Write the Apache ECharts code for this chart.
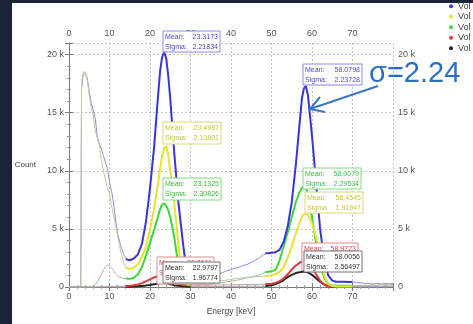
<!DOCTYPE html>
<html><head><meta charset="utf-8">
<script src="https://cdn.jsdelivr.net/npm/echarts@6/dist/echarts.min.js"></script>
<style>html,body{margin:0;padding:0;background:#fff}#c{width:473px;height:324px}</style>
</head><body><div id="c"></div>
<script>
// ---------- data ----------
const seriesNames = ['Vol A', 'Vol 1', 'Vol 2', 'Vol 3', 'Vol 4'];
const xTickLabels = [0, 10, 20, 30, 40, 50, 60, 70];
const yTickValues = [0, 5000, 10000, 15000, 20000];

// fitted peak curves (thick lines), energy in keV
const fitLeftX = [14,15,16,17,18,19,20,21,22,22.5,23,23.5,24,24.5,25,26,27,28,29,30];
const fitLeftA = [2400,2300,2450,2800,3700,5600,8500,12000,16500,18600,19800,20200,19700,18200,16200,11500,7300,4200,1300,500];
const fitLeft1 = [1650,1550,1650,1950,2600,3500,4900,6700,8900,10200,11300,12000,12100,11400,10000,7200,3800,700,300,200];
const fitLeft2 = [750,700,800,1100,1700,2700,3800,4900,6100,6700,7100,7200,7000,6600,6000,4300,1800,500,200,150];
const fitLeft3 = [80,100,150,220,330,480,650,820,950,1000,1030,1030,980,900,780,500,280,180,150,150];
const fitLeft4 = [20,30,40,60,90,120,170,230,290,320,340,340,320,290,240,160,100,60,40,30];

const fitRightX = [48.5,49,50,51,52,53,54,55,56,57,57.5,58,58.5,59,60,61,62,63,64,65,66,67,68,69,70];
const fitRightA = [2900,2900,2950,3000,3200,3900,5200,7300,10500,14300,16200,17100,17300,16500,13000,9000,5000,2400,1000,550,450,450,450,430,430];
const fitRight1 = [950,950,1000,1100,1300,1700,2500,3500,4600,5600,6000,6250,6300,6200,5500,4300,2600,1000,250,80,50,50,50,50,50];
const fitRight2 = [1300,1300,1350,1500,2300,3500,4700,6000,7300,8200,8500,8600,8500,8100,6000,3800,2000,800,250,120,100,100,100,100,100];
const fitRight3 = [250,250,280,350,500,750,1100,1500,1850,2100,2200,2250,2200,2100,1700,1100,550,200,80,40,30,30,30,30,30];
const fitRight4 = [80,100,150,250,400,600,850,1050,1200,1280,1310,1320,1300,1250,1050,750,450,200,60,30,20,20,20,20,20];

// raw spectra (thin lines) outside the fit windows; null = gap
const histX = [0,1,2,2.9,3.1,3.5,4,4.5,5,5.5,6,6.5,7,7.5,8,8.5,9,9.5,10,10.5,11,11.5,12,12.5,13,13.5,14,14.5,
  15,
  30,31,32,33,34,35,36,37,38,39,40,41,42,43,44,45,46,47,48,49,
  49.5,
  70,71,72,73,74,75,76,77,78,79,80];
const histA = [0,0,0,0,17000,18300,18400,18000,16800,15800,15200,14500,12900,12300,11900,11300,10700,10200,9000,8300,7200,5800,4600,3900,3300,2800,2500,2350,
  null,
  450,550,650,750,800,900,1000,1100,1250,1400,1500,1600,1700,1850,1950,2100,2300,2500,2800,2900,
  null,
  430,400,350,320,300,260,320,250,300,260,300];
const hist1 = [0,0,0,0,17500,18500,18500,17800,16500,15300,14800,13400,12800,12200,11000,10000,9200,8500,8000,7000,6200,5300,4400,3500,2700,2100,1750,1600,
  null,
  250,300,320,350,380,420,460,500,550,600,650,700,750,780,820,850,880,900,930,950,
  null,
  60,100,80,150,120,200,150,250,180,220,200];
const hist2 = [0,0,0,0,0,0,0,0,0,0,50,200,450,750,1100,1450,1750,1900,1850,1650,1400,1150,950,850,780,730,720,700,
  null,
  180,190,200,220,250,280,320,360,400,450,500,560,620,700,780,870,960,1050,1200,1300,
  null,
  100,120,90,150,110,160,130,200,150,180,170];
const hist3 = [0,0,0,0,0,0,0,0,0,0,0,0,10,20,30,40,50,60,60,70,70,70,70,70,75,75,80,80,
  null,
  150,150,150,160,160,170,170,180,180,190,190,200,200,210,210,220,220,230,240,250,
  null,
  30,40,30,50,40,60,50,70,60,70,60];
const hist4 = [0,0,0,0,0,0,0,0,0,0,0,0,0,5,5,10,10,10,15,15,15,15,20,20,20,20,20,20,
  null,
  30,30,35,35,40,40,45,45,50,50,55,55,60,60,65,65,70,70,75,80,
  null,
  20,30,20,30,25,35,25,40,30,35,30];

// fit statistics shown in the annotation boxes
const statMean  = ['23.3173','58.0798','23.4987','23.1325','58.4545','58.0079','22.8611','22.9797','58.9723','58.0056'];
const statSigma = ['2.21834','2.23728','2.10801','2.30826','1.91947','2.29534','2.70415','1.96774','2.53128','2.56497'];
const annotationText = 'σ=2.24';

// ---------- styling / layout ----------
const lineColors = ['#3b35d9', '#e4e431', '#3cd63c', '#e03a3a', '#222222'];
const histColors = ['#948cd0', '#c9c49e', '#a3bfa3', '#c9a5a5', '#a8a8a8'];
const boxText = ['#4a4ad6', '#c9c43a', '#3dbd3d', '#d04848', '#333333'];
const boxBorder = ['#8a8ae6', '#dcd87a', '#86d886', '#e08a8a', '#777777'];
// [x, y, w, h, seriesIndex]
const boxLayout = [
  [163, 31, 57, 21, 0],
  [303, 64, 59, 21, 0],
  [163, 122, 58, 22, 1],
  [163, 178, 58, 22, 2],
  [305, 192, 58, 21, 1],
  [303, 168, 58, 21, 2],
  [157, 257, 57, 27, 3],
  [163, 262, 57, 21, 4],
  [302, 243, 56, 27, 3],
  [304, 251, 58, 21, 4]
];

function pairs(xs, ys) { return xs.map((x, i) => [x, ys[i] == null ? '-' : ys[i]]); }

const fitsL = [fitLeftA, fitLeft1, fitLeft2, fitLeft3, fitLeft4];
const fitsR = [fitRightA, fitRight1, fitRight2, fitRight3, fitRight4];
const hists = [histA, hist1, hist2, hist3, hist4];

const series = [];
hists.forEach((h, i) => {
  series.push({
    name: seriesNames[i] + ' spectrum', type: 'line', data: pairs(histX, h),
    symbol: 'none', z: 2, lineStyle: { width: 1, color: histColors[i] }, itemStyle: { color: histColors[i] }
  });
});
[4, 3, 2, 1, 0].forEach(i => {
  series.push({
    name: seriesNames[i], type: 'line', data: pairs(fitLeftX, fitsL[i]),
    symbol: 'none', z: 3, lineStyle: { width: 2, color: lineColors[i] }, itemStyle: { color: lineColors[i] }
  });
  series.push({
    name: seriesNames[i], type: 'line', data: pairs(fitRightX, fitsR[i]),
    symbol: 'none', z: 3, lineStyle: { width: 2, color: lineColors[i] }, itemStyle: { color: lineColors[i] }
  });
});

const graphics = [
  { type: 'rect', shape: { x: 0, y: 0, width: 12, height: 324 }, style: { fill: '#1b2436' }, z: 100 },
  { type: 'rect', shape: { x: 0, y: 0, width: 473, height: 3 }, style: { fill: '#1b2436' }, z: 100 }
];
boxLayout.forEach((b, k) => {
  const [x, y, w, h, si] = b;
  const font = '8px "Liberation Sans", Arial, sans-serif';
  const sx = 0.88;
  graphics.push({
    type: 'group', z: 50 + k,
    children: [
      { type: 'rect', shape: { x: x, y: y, width: w, height: h }, style: { fill: '#ffffff', stroke: boxBorder[si], lineWidth: 1 }, z: 50 + k },
      { type: 'text', x: x + 2, y: y + 5.5, scaleX: sx, style: { text: 'Mean:', fill: boxText[si], font: font, textAlign: 'left', textVerticalAlign: 'middle' }, z: 50 + k },
      { type: 'text', x: x + w - 2, y: y + 5.5, scaleX: sx, style: { text: statMean[k], fill: boxText[si], font: font, textAlign: 'right', textVerticalAlign: 'middle' }, z: 50 + k },
      { type: 'text', x: x + 2, y: y + 15.5, scaleX: sx, style: { text: 'Sigma:', fill: boxText[si], font: font, textAlign: 'left', textVerticalAlign: 'middle' }, z: 50 + k },
      { type: 'text', x: x + w - 2, y: y + 15.5, scaleX: sx, style: { text: statSigma[k], fill: boxText[si], font: font, textAlign: 'right', textVerticalAlign: 'middle' }, z: 50 + k }
    ]
  });
});
// annotation with arrow
graphics.push({ type: 'text', x: 369, y: 74, z: 80,
  style: { text: annotationText, fill: '#2a6fc3', font: '29px "Liberation Sans", Arial, sans-serif', textAlign: 'left', textVerticalAlign: 'middle' } });
graphics.push({ type: 'line', z: 80, shape: { x1: 378, y1: 86, x2: 310, y2: 109 }, style: { stroke: '#3a77c2', lineWidth: 2 } });
graphics.push({ type: 'polyline', z: 80, shape: { points: [[325, 112], [310, 109], [320, 97]] }, style: { stroke: '#3a77c2', lineWidth: 2, fill: null } });

const fmtY = v => (v % 5000 !== 0 ? '' : (v === 0 ? '0' : (v / 1000) + ' k'));
const fmtX = v => (xTickLabels.indexOf(v) >= 0 ? String(v) : '');
const axisCommon = {
  axisLine: { show: true, lineStyle: { color: '#7a7a7a', width: 1 } },
  axisTick: { show: true, length: 4, lineStyle: { color: '#7a7a7a' } },
  minorTick: { show: true, splitNumber: 5, length: 2, lineStyle: { color: '#9a9a9a' } },
  axisLabel: { fontSize: 9, color: '#555', fontFamily: 'Liberation Sans', margin: 5, showMaxLabel: false }
};

const option = {
  animation: false,
  backgroundColor: '#ffffff',
  grid: { left: 69, right: 80, top: 43, bottom: 37 },
  legend: {
    data: seriesNames, orient: 'vertical', left: 449, top: 1, padding: 0,
    icon: 'circle', itemWidth: 4, itemHeight: 4, itemGap: 0,
    textStyle: { fontSize: 9, lineHeight: 10.5, color: '#444', fontFamily: 'Liberation Sans' }
  },
  xAxis: [
    Object.assign({}, axisCommon, {
      type: 'value', position: 'bottom', min: 0, max: 80, interval: 10,
      axisLabel: Object.assign({}, axisCommon.axisLabel, { formatter: fmtX }),
      name: 'Energy [keV]', nameLocation: 'middle', nameGap: 20,
      nameTextStyle: { fontSize: 8.5, color: '#444', fontFamily: 'Liberation Sans' },
      splitLine: { show: true, lineStyle: { type: [2, 2], color: '#c4c4c4' } }
    }),
    Object.assign({}, axisCommon, {
      type: 'value', position: 'top', min: 0, max: 80, interval: 10,
      axisLabel: Object.assign({}, axisCommon.axisLabel, { formatter: fmtX }),
      splitLine: { show: false }
    })
  ],
  yAxis: [
    Object.assign({}, axisCommon, {
      type: 'value', position: 'left', min: 0, max: 21000, interval: 5000,
      axisLabel: Object.assign({}, axisCommon.axisLabel, { formatter: fmtY }),
      name: 'Count', nameLocation: 'middle', nameRotate: 0, nameGap: 33,
      nameTextStyle: { fontSize: 8, color: '#444', fontFamily: 'Liberation Sans' },
      splitLine: { show: true, lineStyle: { type: [2, 2], color: '#c4c4c4' } }
    }),
    Object.assign({}, axisCommon, {
      type: 'value', position: 'right', min: 0, max: 21000, interval: 5000,
      axisLabel: Object.assign({}, axisCommon.axisLabel, { formatter: fmtY }),
      splitLine: { show: false }
    })
  ],
  series: series,
  graphic: graphics
};
const chart = echarts.init(document.getElementById('c'), null, { renderer: 'canvas' });
chart.setOption(option);
</script>
</body></html>
